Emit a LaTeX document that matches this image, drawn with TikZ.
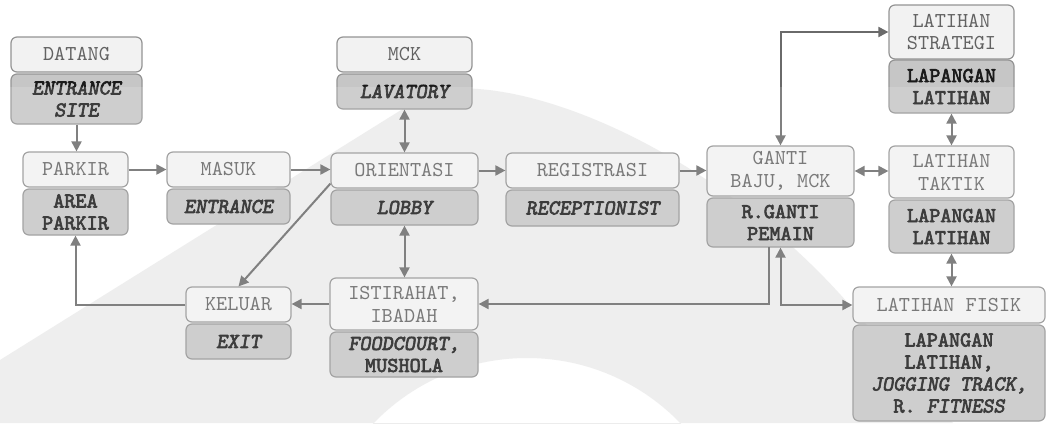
\documentclass[tikz,border=0pt]{standalone}
\usepackage{fontspec}
\usetikzlibrary{arrows.meta,calc}
% heavy typewriter face for the lower boxes
\newfontfamily\heavymono{Latin Modern Mono}[FakeBold=3, ItalicFont={Latin Modern Mono Slanted}]
% base colours; the lower part of the sheet is lightened by a veil drawn last
\definecolor{linegrey}{HTML}{6A6A6A}
\definecolor{boxedge}{HTML}{949494}
\definecolor{upfill}{HTML}{F2F2F2}
\definecolor{lowfill}{HTML}{C6C6C6}
\definecolor{uptext}{HTML}{626262}
\definecolor{lowtext}{HTML}{1A1A1A}
\definecolor{markgrey}{HTML}{ECECEC}
\begin{document}
\begin{tikzpicture}[x=0.5pt,y=-0.5pt,
  box/.style={draw=boxedge, rounded corners=3pt, line width=0.6pt, inner sep=0pt, align=center},
  size/.style 2 args={minimum width=#1*0.5pt, minimum height=#2*0.5pt},
  upper/.style={box, fill=upfill, text=uptext, font=\ttfamily\fontsize{10.6}{11.4}\selectfont},
  lower/.style={box, fill=lowfill, text=lowtext, font=\heavymono\fontsize{10.6}{11}\selectfont},
  arr/.style={draw=linegrey, line width=1pt, -{Triangle[length=5pt,width=5pt]}},
  darr/.style={arr, {Triangle[length=5pt,width=5pt]}-{Triangle[length=5pt,width=5pt]}},
]
\useasboundingbox (0,0) rectangle (1048,423);
\fill[white] (0,0) rectangle (1048,423);
% faint background emblem
\fill[markgrey, even odd rule] (0,360) -- (430,92)
  .. controls (520,70) and (720,150) .. (860,317) -- (953,423) -- (0,423) -- cycle
  (527,571) circle (106.5pt);

% upper / lower box pairs
\node[upper, size={131}{35}] (datang) at (76.5,54.5) {DATANG};
\node[lower, size={131}{50}] (entsite) at (76.5,99) {\itshape ENTRANCE\\\itshape SITE};

\node[upper, size={105}{35}] (parkir) at (75.5,169.5) {PARKIR};
\node[lower, size={105}{46}] (areaparkir) at (75.5,212) {AREA\\PARKIR};

\node[upper, size={123}{35}] (masuk) at (228.5,169.5) {MASUK};
\node[lower, size={123}{35}] (entrance) at (228.5,206.5) {\itshape ENTRANCE};

\node[upper, size={135}{35}] (mck) at (404.5,54.5) {MCK};
\node[lower, size={135}{35}] (lavatory) at (404.5,91.5) {\itshape LAVATORY};

\node[upper, size={147}{35}] (orientasi) at (404.5,170.5) {ORIENTASI};
\node[lower, size={147}{35}] (lobby) at (404.5,207.5) {\itshape LOBBY};

\node[upper, size={173}{35}] (registrasi) at (592.5,170.5) {REGISTRASI};
\node[lower, size={173}{36}] (recep) at (592.5,208) {\itshape RECEPTIONIST};

\node[upper, size={147}{50}] (ganti) at (780.5,171) {GANTI\\BAJU, MCK};
\node[lower, size={147}{49}] (rganti) at (780.5,222.5) {R.GANTI\\PEMAIN};

\node[upper, size={125}{54}] (strategi) at (951.5,32) {LATIHAN\\STRATEGI};
\node[lower, size={125}{53}] (lapstrat) at (951.5,86.5) {LAPANGAN\\LATIHAN};

\node[upper, size={125}{52}] (taktik) at (951.5,172) {LATIHAN\\TAKTIK};
\node[lower, size={125}{53}] (laptaktik) at (951.5,226.5) {LAPANGAN\\LATIHAN};

\node[upper, size={192}{36}] (fisik) at (949,305) {LATIHAN FISIK};
\node[lower, size={192}{96}] (lapfisik) at (949,373) {LAPANGAN\\LATIHAN,\\\itshape JOGGING TRACK,\\R. \itshape FITNESS};

\node[upper, size={105}{35}] (keluar) at (238.5,304.5) {KELUAR};
\node[lower, size={105}{35}] (exit) at (238.5,341.5) {\itshape EXIT};

\node[upper, size={148}{52}] (istirahat) at (404,304) {ISTIRAHAT,\\IBADAH};
\node[lower, size={148}{45}] (foodcourt) at (404,354.5) {\itshape FOODCOURT,\\MUSHOLA};

% connectors
\coordinate (gdown) at (769,247);
\coordinate (oexit) at ($(orientasi.south west)+(0,-5)$);

\draw[arr] (entsite.south) -- (entsite.south |- parkir.north);
\draw[arr] (parkir.east) -- (masuk.west);
\draw[arr] (masuk.east) -- (masuk.east -| orientasi.west);
\draw[arr] (orientasi.east) -- (registrasi.west);
\draw[arr] (registrasi.east) -- (registrasi.east -| ganti.west);
\draw[darr] (lavatory.south) -- (orientasi.north);
\draw[darr] (lobby.south) -- (lobby.south |- istirahat.north);
\draw[darr] (ganti.east) -- (ganti.east -| taktik.west);
\draw[darr] (ganti.north) |- (strategi.west);
\draw[darr] (lapstrat.south) -- (taktik.north);
\draw[darr] (laptaktik.south) -- (laptaktik.south |- fisik.north);
\draw[arr] (gdown) |- (istirahat.east);
\draw[darr] (rganti.south) |- (fisik.west);
\draw[arr] (istirahat.west) -- (istirahat.west -| keluar.east);
\draw[arr] (keluar.west) -| (areaparkir.south);
\draw[arr] (oexit) -- (keluar.north);

% light veil over the lower part of the sheet
\fill[white, opacity=0.15] (0,87) rectangle (1048,423);
\end{tikzpicture}
\end{document}
